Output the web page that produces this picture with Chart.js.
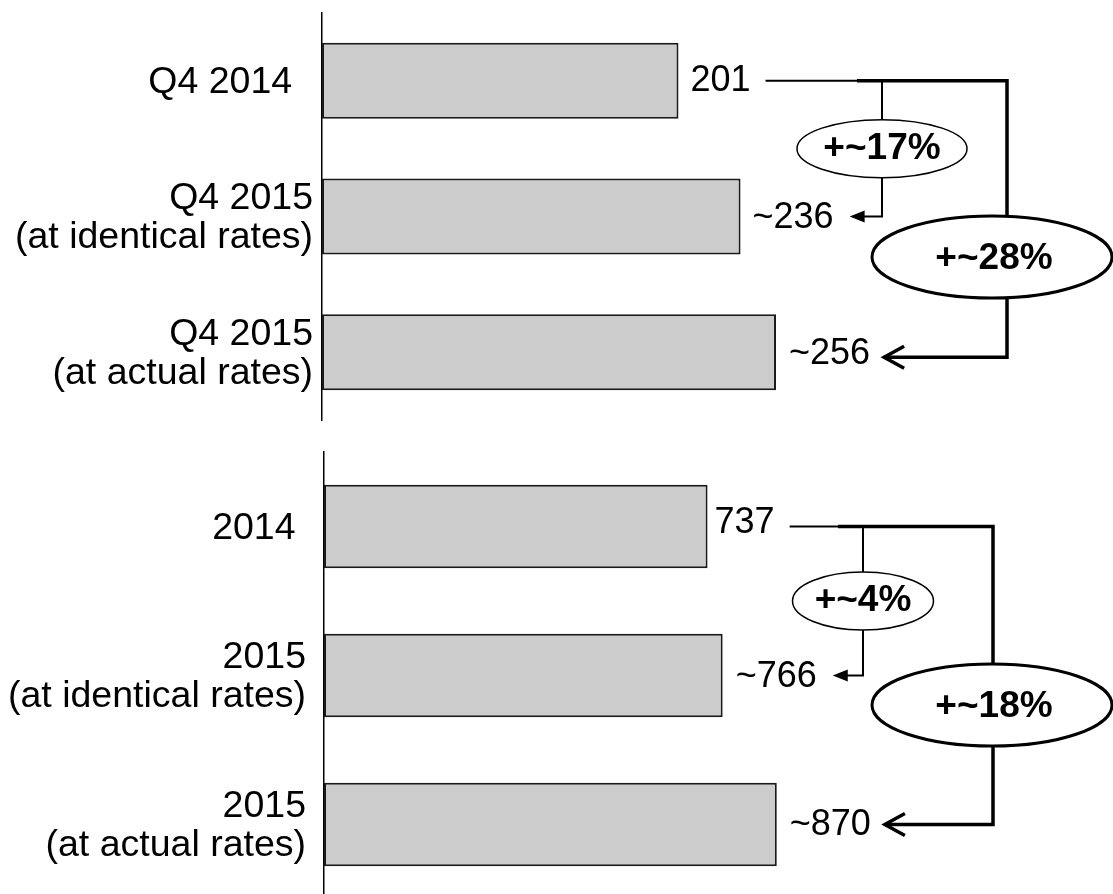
<!DOCTYPE html>
<html lang="en">
<head>
<meta charset="UTF-8" />
<title>Q4 and full year comparison</title>
<script src="https://cdn.jsdelivr.net/npm/chart.js"></script>
<style>
  body { margin: 0; background: #fff; overflow: hidden; width: 1113px; height: 894px; position: relative; }
  .panel { position: absolute; left: 0; }
  #topPanel { top: 0; }
  #bottomPanel { top: 440px; }
</style>
</head>
<body>
<div class="panel" id="topPanel"><canvas id="quarterChart" width="1113" height="432"></canvas></div>
<div class="panel" id="bottomPanel"><canvas id="yearChart" width="1113" height="460"></canvas></div>
<script>
  // Q4 panel
  const quarterCategories = ['Q4 2014  ', ['Q4 2015', '(at identical rates)'], ['Q4 2015', '(at actual rates)']];
  const quarterValues = [201, 236, 256];
  const quarterValueLabels = ['201', '~236', '~256'];
  const quarterChanges = ['+~17%', '+~28%'];

  // full year panel
  const yearCategories = ['2014 ', ['2015', '(at identical rates)'], ['2015', '(at actual rates)']];
  const yearValues = [737, 766, 870];
  const yearValueLabels = ['737', '~766', '~870'];
  const yearChanges = ['+~4%', '+~18%'];

  const FONT = "'Liberation Sans', Arial, sans-serif";

  // draws value labels, the two brackets and the ellipses with the change text
  const bracketPlugin = {
    id: 'brackets',
    afterDatasetsDraw(chart, args, opts) {
      const ctx = chart.ctx;
      const xS = chart.scales.x, yS = chart.scales.y;
      const values = chart.data.datasets[0].data;
      ctx.save();
      ctx.font = '36px ' + FONT;
      ctx.fillStyle = '#000';
      ctx.textBaseline = 'middle';
      ctx.textAlign = 'left';
      const ends = [];
      values.forEach((v, i) => {
        const px = xS.getPixelForValue(v) + opts.labelGap[i];
        const py = yS.getPixelForValue(i) + opts.labelDy[i];
        ctx.fillText(opts.valueLabels[i], px, py);
        ends.push(px + ctx.measureText(opts.valueLabels[i]).width);
      });

      const y0 = yS.getPixelForValue(0);
      const y1 = yS.getPixelForValue(1);
      const y2 = yS.getPixelForValue(2) + opts.arrowDy;
      ctx.strokeStyle = '#000';
      ctx.lineJoin = 'miter';

      // thin bracket: first -> second bar
      const tip1 = ends[1] + 16;
      ctx.lineWidth = 2;
      ctx.beginPath();
      ctx.moveTo(ends[0] + 15, y0);
      ctx.lineTo(opts.innerX, y0);
      ctx.lineTo(opts.innerX, y1);
      ctx.lineTo(tip1 + 12, y1);
      ctx.stroke();
      ctx.beginPath();
      ctx.moveTo(tip1, y1);
      ctx.lineTo(tip1 + 15, y1 - 6);
      ctx.lineTo(tip1 + 15, y1 + 6);
      ctx.closePath();
      ctx.fill();

      // thick bracket: first -> third bar
      const tip2 = ends[2] + 14;
      ctx.lineWidth = 3.5;
      ctx.beginPath();
      ctx.moveTo(opts.innerX - 25, y0);
      ctx.lineTo(opts.outerX, y0);
      ctx.lineTo(opts.outerX, y2);
      ctx.lineTo(tip2, y2);
      ctx.stroke();
      ctx.beginPath();
      ctx.moveTo(tip2 + 20, y2 - 11);
      ctx.lineTo(tip2, y2);
      ctx.lineTo(tip2 + 20, y2 + 11);
      ctx.stroke();

      // ellipses
      ctx.font = 'bold 37px ' + FONT;
      ctx.textAlign = 'center';
      const smallCy = (y0 + y1) / 2;
      ctx.fillStyle = '#fff';
      ctx.lineWidth = 1.5;
      ctx.beginPath();
      ctx.ellipse(opts.innerX, smallCy, opts.smallRx, 29, 0, 0, Math.PI * 2);
      ctx.fill();
      ctx.stroke();
      ctx.fillStyle = '#000';
      ctx.fillText(opts.changes[0], opts.innerX, smallCy);

      ctx.fillStyle = '#fff';
      ctx.lineWidth = 3;
      ctx.beginPath();
      ctx.ellipse(opts.bigCx, opts.bigCy, 120, 41, 0, 0, Math.PI * 2);
      ctx.fill();
      ctx.stroke();
      ctx.fillStyle = '#000';
      ctx.fillText(opts.changes[1], opts.bigCx + 2, opts.bigCy + 2);
      ctx.restore();
    }
  };

  function makeChart(id, categories, values, max, axisWidth, tickPad, padding, brackets) {
    const ctx = document.getElementById(id).getContext('2d');
    return new Chart(ctx, {
      type: 'bar',
      data: {
        labels: categories,
        datasets: [{
          data: values,
          backgroundColor: '#cccccc',
          borderColor: '#1a1a1a',
          borderWidth: 2,
          borderSkipped: false,
          barPercentage: 0.56,
          categoryPercentage: 1
        }]
      },
      options: {
        indexAxis: 'y',
        responsive: false,
        animation: false,
        layout: { padding: padding },
        plugins: {
          legend: { display: false },
          tooltip: { enabled: false },
          brackets: brackets
        },
        scales: {
          x: { display: false, min: 0, max: max },
          y: {
            grid: { display: false, drawTicks: false },
            border: { display: true, color: '#000', width: 1.5 },
            ticks: {
              color: '#000',
              padding: tickPad,
              labelOffset: 2,
              font: { family: FONT, size: 37.5, lineHeight: 1.04 }
            },
            afterFit: s => {
              s.width = axisWidth;
              s.paddingTop = 0;
              s.paddingBottom = 0;
            }
          }
        }
      },
      plugins: [bracketPlugin]
    });
  }

  makeChart('quarterChart', quarterCategories, quarterValues, 446, 322, 9,
    { top: 13, bottom: 12, left: 0, right: 0 },
    {
      valueLabels: quarterValueLabels, changes: quarterChanges,
      labelGap: [12, 12, 13], labelDy: [0, 2, 2], arrowDy: 5,
      innerX: 882, outerX: 1007, smallRx: 85, bigCx: 992, bigCy: 257
    });

  makeChart('yearChart', yearCategories, yearValues, 1516, 324, 18,
    { top: 12, bottom: 1, left: 0, right: 0 },
    {
      valueLabels: yearValueLabels, changes: yearChanges,
      labelGap: [7, 13, 13], labelDy: [-3, 2, 1], arrowDy: 0,
      innerX: 863, outerX: 993, smallRx: 70.5, bigCx: 992, bigCy: 265
    });
</script>
</body>
</html>
